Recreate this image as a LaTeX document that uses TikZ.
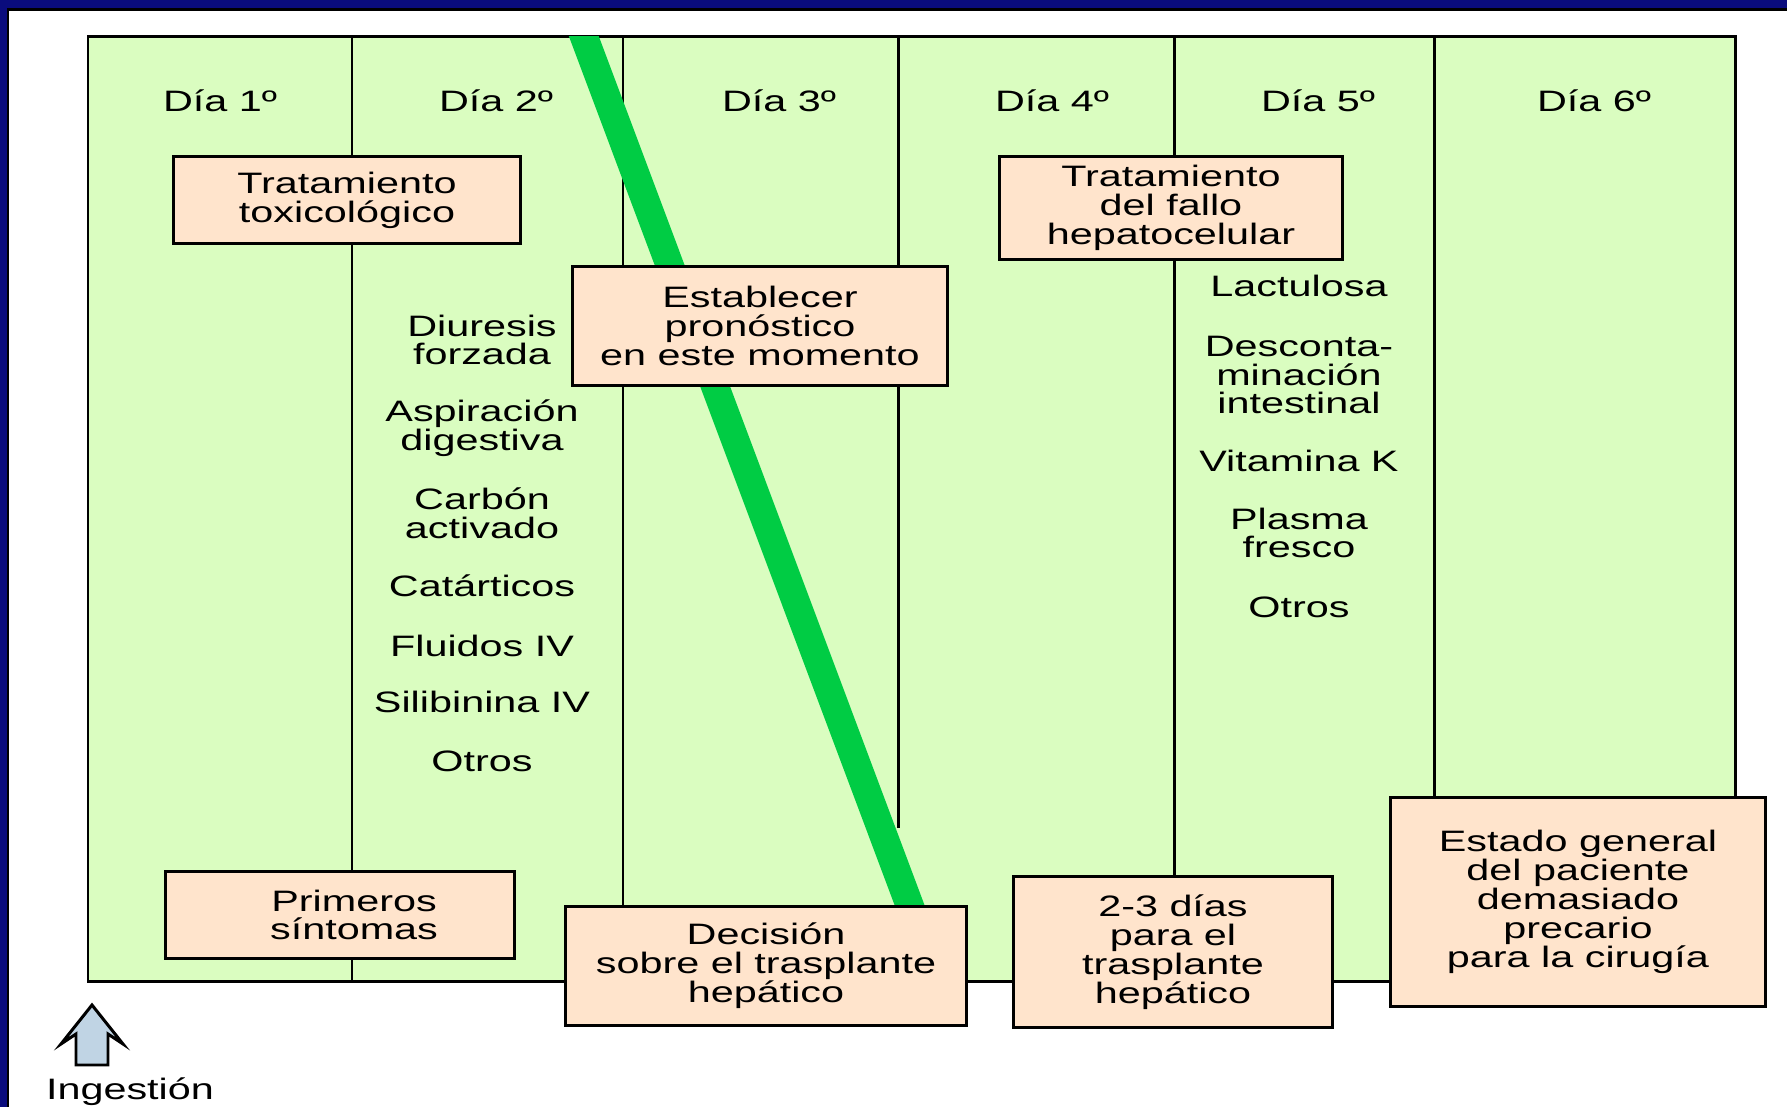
\documentclass[tikz,border=0pt]{standalone}
\usepackage{fontspec}
\setmainfont{Liberation Sans}[FakeStretch=1.4]
\definecolor{fondo}{RGB}{10,12,125}
\definecolor{verde}{RGB}{218,253,192}
\definecolor{melocoton}{RGB}{255,228,204}
\definecolor{barra}{RGB}{0,204,68}
\definecolor{celeste}{RGB}{192,212,228}
\tikzset{
	caja/.style={draw, fill=melocoton, align=center, inner sep=0pt},
	texto/.style={align=center, inner sep=0pt}
}

\begin{document}
\begin{tikzpicture}[x=0.01cm, y=-0.01cm, line width=0.85pt, font=\fontsize{8.4}{8.2}\selectfont]
		\clip (0,0) rectangle (1787,1107);
		\fill[fondo] (0,0) rectangle (1787,1107);
		\filldraw[fill=white] (8,10) rectangle (1800,1120);

		\filldraw[fill=verde] (88,37) rectangle (1735,982);
		\foreach \x/\y in {352/982,623/982,898/828,1174/982,1434/982}
			\draw (\x,37) -- (\x,\y);

		\begin{scope}
			\clip (88,37) rectangle (1735,982);
			\draw[barra, line width=0.28cm] (574,10) -- (917,925);
		\end{scope}

		\node[anchor=base] (dia1) at (220,112) {Día 1º};
		\node[anchor=base] (dia2) at (496,112) {Día 2º};
		\node[anchor=base] (dia3) at (779,112) {Día 3º};
		\node[anchor=base] (dia4) at (1052,112) {Día 4º};
		\node[anchor=base] (dia5) at (1318,112) {Día 5º};
		\node[anchor=base] (dia6) at (1594,112) {Día 6º};

		\node[caja, minimum width=3.47cm, minimum height=0.87cm] (tox) at (347,200) {Tratamiento\\toxicológico};
		\node[caja, minimum width=3.74cm, minimum height=1.18cm] (pron) at (760,326) {Establecer\\pronóstico\\en este momento};
		\node[caja, minimum width=3.43cm, minimum height=1.03cm] (fallo) at (1171,208) {Tratamiento\\del fallo\\hepatocelular};
		\node[caja, minimum width=3.48cm, minimum height=0.87cm] (sint) at (340,915) {\hspace*{0.28cm}Primeros\\\hspace*{0.28cm}síntomas};
		\node[caja, minimum width=4cm, minimum height=1.18cm] (decis) at (766,966) {Decisión\\sobre el trasplante\\hepático};
		\node[caja, minimum width=3.18cm, minimum height=1.51cm] (dias) at (1173,952) {2-3 días\\para el\\trasplante\\hepático};
		\node[caja, minimum width=3.75cm, minimum height=2.09cm] (estado) at (1578,902) {Estado general\\del paciente\\demasiado\\precario\\para la cirugía};

		\node[texto] (diur) at (482,340) {Diuresis\\forzada};
		\node[texto] (asp) at (482,428) {Aspiración\\digestiva};
		\node[texto] (carb) at (482,513) {Carbón\\activado};
		\node[anchor=base] (cat) at (482,597) {Catárticos};
		\node[anchor=base] (flu) at (482,657) {Fluidos IV};
		\node[anchor=base] (sil) at (482,713) {Silibinina IV};
		\node[anchor=base] (otr1) at (482,772) {Otros};

		\node[anchor=base] (lac) at (1299,297) {Lactulosa};
		\node[texto] (desc) at (1299,375) {Desconta-\\minación\\intestinal};
		\node[anchor=base] (vit) at (1299,472) {Vitamina K};
		\node[texto] (plas) at (1299,533) {Plasma\\fresco};
		\node[anchor=base] (otr2) at (1299,618) {Otros};

		\filldraw[fill=celeste] (92,1005) -- (123,1044) -- (108,1034) -- (108,1065) -- (76,1065) -- (76,1034) -- (61,1044) -- cycle;
		\node[anchor=base] (ing) at (130,1100) {Ingestión};
\end{tikzpicture}
\end{document}
